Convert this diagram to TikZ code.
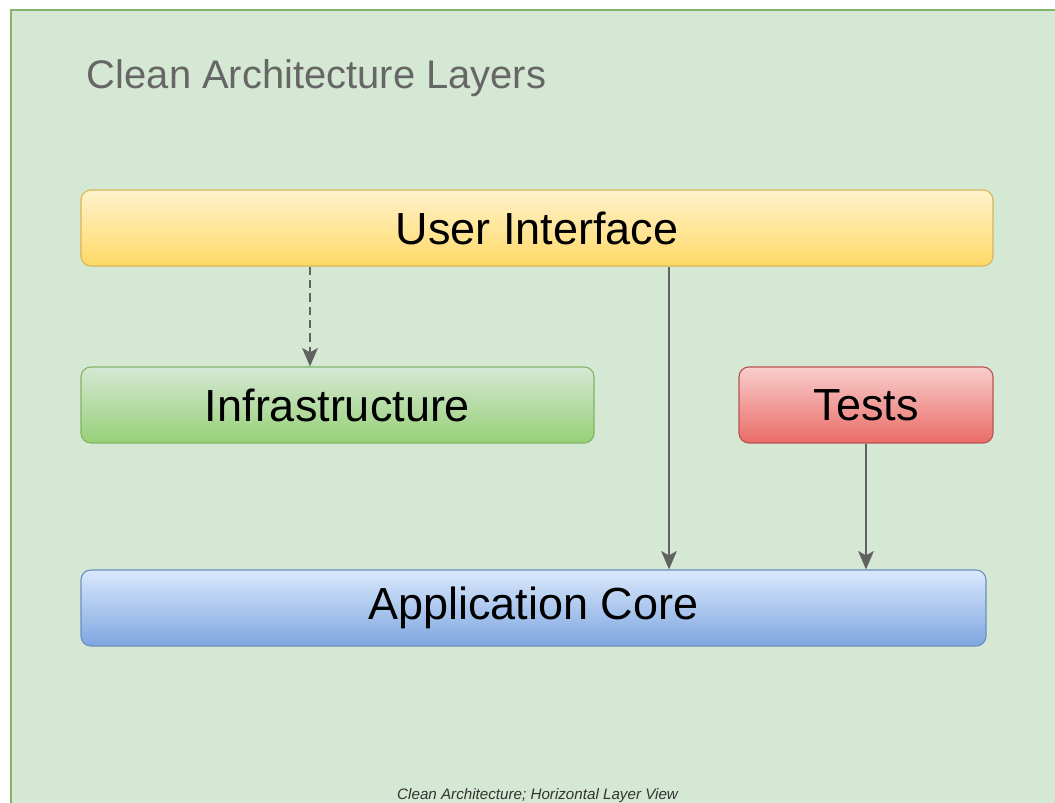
\documentclass[tikz,border=0pt]{standalone}
\usepackage{fontspec}
\setmainfont{Liberation Sans}
\usepackage{tikz}
\usetikzlibrary{positioning,arrows.meta,calc}
\definecolor{panelbg}{HTML}{D5E8D4}
\definecolor{panelln}{HTML}{82B366}
\definecolor{uitop}{HTML}{FFF2CC}
\definecolor{uibot}{HTML}{FFD966}
\definecolor{uiln}{HTML}{D6B656}
\definecolor{inftop}{HTML}{D5E8D4}
\definecolor{infbot}{HTML}{97D077}
\definecolor{infln}{HTML}{82B366}
\definecolor{tsttop}{HTML}{F8CECC}
\definecolor{tstbot}{HTML}{EA6B66}
\definecolor{tstln}{HTML}{B85450}
\definecolor{coretop}{HTML}{DAE8FC}
\definecolor{corebot}{HTML}{7EA6E0}
\definecolor{coreln}{HTML}{6C8EBF}
\definecolor{arrgray}{HTML}{616161}
\definecolor{titlegray}{HTML}{666666}

\begin{document}
\begin{tikzpicture}[
  layer/.style={rectangle, rounded corners=7pt, draw=#1ln, line width=0.8pt,
                top color=#1top, bottom color=#1bot, minimum height=1.9cm,
                inner sep=0pt, font=\fontsize{32}{38}\selectfont},
  ar/.style={-{Stealth[length=13pt, width=11pt, inset=3pt]}, line width=1.9pt, arrgray},
]
\useasboundingbox (0,0) rectangle (26.375,20.05);

% slide panel, only top and left edges show
\fill[panelbg] (0.275,-1) rectangle (27,19.8);
\draw[panelln, line width=1.2pt] (0.275,-1) |- (27,19.8);

\node[anchor=base west, text=titlegray, font=\fontsize{28.4}{34}\selectfont]
    (title) at (2.05,17.825) {Clean Architecture Layers};

\node[layer=ui,   minimum width=22.8cm]   (ui)    at (13.425,14.35) {User Interface};
\node[layer=inf,  minimum width=12.825cm] (infra) at (8.4375,9.925) {Infrastructure};
\node[layer=tst,  minimum width=6.35cm]   (tests) at (21.65,9.925)  {Tests};
\node[layer=core, minimum width=22.625cm] (core)  at (13.3375,4.85) {Application Core};

\coordinate (dashcol) at (7.75,0);
\coordinate (uicol)   at (16.725,0);

\draw[ar, dash pattern=on 6pt off 3.5pt] (ui.south-|dashcol) -- (infra.north-|dashcol);
\draw[ar] (ui.south-|uicol) -- (core.north-|uicol);
\draw[ar] (tests.south) -- (core.north-|tests.south);

\node[anchor=base, font=\fontsize{10.8}{13}\selectfont\itshape, text=black!80]
    (caption) at (13.44,0.075) {Clean Architecture; Horizontal Layer View};
\end{tikzpicture}
\end{document}
